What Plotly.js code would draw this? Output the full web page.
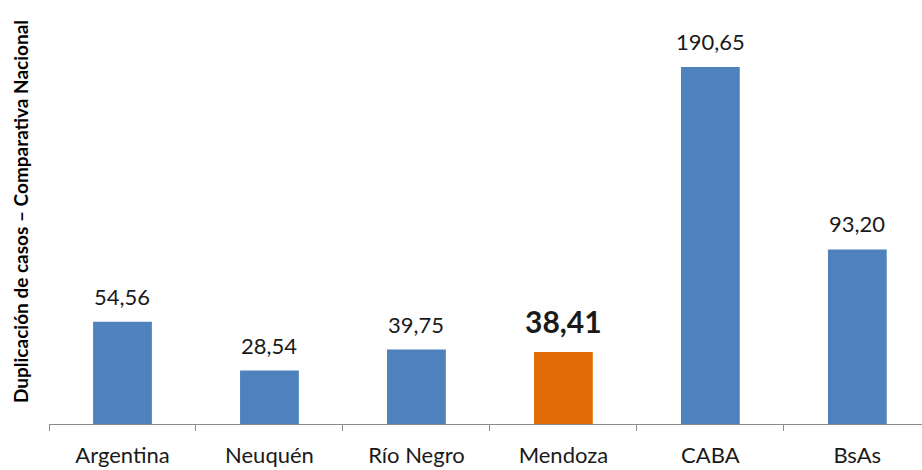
<!DOCTYPE html>
<html>
<head>
<meta charset="utf-8">
<script src="https://cdn.plot.ly/plotly-3.0.1.min.js"></script>
<style>html,body{margin:0;padding:0;background:#fff;}#chart{width:922px;height:470px;}</style>
</head>
<body>
<div id="chart"></div>
<script>
var categories = ["Argentina", "Neuquén", "Río Negro", "Mendoza", "CABA", "BsAs"];
var values = [54.56, 28.54, 39.75, 38.41, 190.65, 93.20];
var barColors = ["#4F81BD", "#4F81BD", "#4F81BD", "#E36C09", "#4F81BD", "#4F81BD"];
var highlight = [false, false, false, true, false, false];
var yTitle = "Duplicación de casos – Comparativa Nacional";

function fmt(v) { return v.toFixed(2).replace('.', ','); }

var trace = {
  type: 'bar',
  x: categories,
  y: values,
  marker: { color: barColors, line: { width: 0 } },
  hoverinfo: 'none'
};

var annotations = categories.map(function (c, i) {
  return {
    x: c, y: values[i], xref: 'x', yref: 'y',
    text: highlight[i] ? '<b>' + fmt(values[i]) + '</b>' : fmt(values[i]),
    showarrow: false, yanchor: 'bottom',
    yshift: highlight[i] ? 11 : 10,
    font: { family: 'Lato, sans-serif', size: highlight[i] ? 30 : 22, color: '#1a1a1a' }
  };
});

annotations.push({
  xref: 'paper', yref: 'paper', x: -0.0332, y: 0.5,
  xanchor: 'center', yanchor: 'middle', textangle: -90, showarrow: false,
  text: '<b>' + yTitle + '</b>',
  font: { family: 'Lato, sans-serif', size: 19, color: '#000' }
});

var layout = {
  width: 922, height: 470,
  margin: { l: 49, r: 0, t: 0, b: 46 },
  paper_bgcolor: '#ffffff', plot_bgcolor: '#ffffff',
  bargap: 0.6,
  showlegend: false,
  xaxis: {
    type: 'category',
    range: [-0.5, 5.44],
    showline: true, linecolor: '#8c8c8c', linewidth: 1,
    ticks: 'outside', tickson: 'boundaries', ticklen: 6, tickcolor: '#8c8c8c',
    ticklabelstandoff: 12,
    tickfont: { family: 'Lato, sans-serif', size: 22, color: '#1a1a1a' },
    showgrid: false, zeroline: false, fixedrange: true
  },
  yaxis: {
    range: [0, 226.4],
    showline: false, showgrid: false, zeroline: false,
    showticklabels: false, ticks: '',
    fixedrange: true
  },
  annotations: annotations
};

Plotly.newPlot('chart', [trace], layout, { displayModeBar: false, staticPlot: true });
</script>
</body>
</html>
